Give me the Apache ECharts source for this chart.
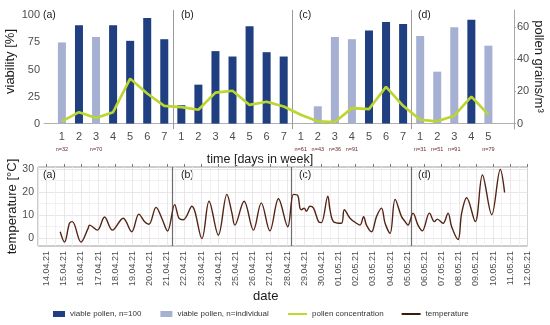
<!DOCTYPE html>
<html><head><meta charset="utf-8">
<script src="https://cdn.jsdelivr.net/npm/echarts@6/dist/echarts.min.js"></script>
<style>html,body{margin:0;padding:0;background:#fff}#c{width:550px;height:325px}</style>
</head><body><div id="c"></div>
<script>
// ---- data ----
const panelLabels = ['(a)','(b)','(c)','(d)'];
const panelSizes = [7, 7, 7, 5];
const dayLabels = ['1','2','3','4','5','6','7','1','2','3','4','5','6','7','1','2','3','4','5','6','7','1','2','3','4','5'];
const sampleSize = ['individual','100','individual','100','100','100','100',
                    '100','100','100','100','100','100','100',
                    'individual','individual','individual','individual','100','100','100',
                    'individual','individual','individual','100','individual'];
const nLabels = ['n=32','','n=70','','','','',
                 '','','','','','','',
                 'n=61','n=43','n=36','n=91','','','',
                 'n=31','n=51','n=91','','n=79'];
const viability = [75,91,80,91,76.5,97.5,78, 17,36,67,62,90,66,62, 0,16,80,78,86,94,92, 81,48,89,96,72];
const pollenConc = [1.4,7.1,3.5,7.1,27.9,18.7,11, 10.2,8.6,19.2,20.4,11.6,13.5,10.6, 5.5,1.4,1.0,9.6,9.0,22.8,11.0, 2.4,1.4,4.9,16.7,5.5];
const leftTicks = [0,25,50,75,100];
const rightTicks = [0,20,40,60];
const tempTicks = [0,10,20,30];
const dateAxisStart = '2021-04-14 00:00';
const dateAxisEnd = '2021-05-12 00:00';
const panelBreakTimes = ['2021-04-21 07:00','2021-04-28 06:30','2021-05-05 06:15'];
const tempTimes = [
 '2021-04-14 19:00','2021-04-15 01:00','2021-04-15 08:00','2021-04-15 12:00','2021-04-16 00:00','2021-04-16 10:00','2021-04-16 12:00','2021-04-16 23:00',
 '2021-04-17 09:00','2021-04-17 20:00','2021-04-18 11:00','2021-04-18 23:00','2021-04-19 09:00','2021-04-19 17:00','2021-04-19 23:00','2021-04-20 09:00',
 '2021-04-20 17:00','2021-04-21 01:00','2021-04-21 11:00','2021-04-21 17:00','2021-04-21 23:00','2021-04-22 11:00','2021-04-23 01:00','2021-04-23 11:00',
 '2021-04-24 00:00','2021-04-24 12:00','2021-04-24 19:00','2021-04-24 23:00','2021-04-25 12:00','2021-04-26 01:00','2021-04-26 12:00','2021-04-27 00:00',
 '2021-04-27 12:00','2021-04-28 01:00','2021-04-28 09:00','2021-04-28 15:00','2021-04-28 18:00','2021-04-28 20:00','2021-04-29 00:00','2021-04-29 03:00',
 '2021-04-29 08:00','2021-04-29 13:00','2021-04-29 20:00','2021-04-30 00:00','2021-04-30 09:00','2021-04-30 12:00','2021-04-30 17:00','2021-05-01 04:00',
 '2021-05-01 08:00','2021-05-01 16:00','2021-05-02 01:00','2021-05-02 06:00','2021-05-02 11:00','2021-05-02 15:00','2021-05-02 22:00','2021-05-03 05:00',
 '2021-05-03 12:00','2021-05-03 17:00','2021-05-04 00:00','2021-05-04 07:00','2021-05-04 16:00','2021-05-04 21:00','2021-05-05 01:00','2021-05-05 08:00',
 '2021-05-05 15:00','2021-05-05 21:00','2021-05-06 07:00','2021-05-06 14:00','2021-05-06 18:00','2021-05-07 02:00','2021-05-07 09:00','2021-05-07 14:00',
 '2021-05-07 23:00','2021-05-08 04:00','2021-05-08 11:00','2021-05-08 23:00','2021-05-09 09:00','2021-05-09 22:00','2021-05-10 10:00','2021-05-10 16:00'
];
const tempValues = [
 2.7,-1.8,6.4,7.1,-1.8,4.2,5.6,3.4,
 9.1,3.4,8.6,2.7,10.4,7.1,6.0,13.3,
 8.6,3.0,14.5,8.6,7.9,13.8,-0.3,16.0,
 1.2,19.0,10.8,5.6,16.0,3.4,15.3,3.1,
 17.1,4.9,19.0,18.5,13.0,12.3,13.0,11.6,
 13.8,13.0,7.1,6.7,18.2,12.3,7.1,6.4,
 12.3,8.6,6.4,5.6,9.3,5.6,2.7,9.3,
 13.0,6.4,2.0,16.8,9.3,7.1,5.6,10.8,
 5.6,3.1,10.8,7.1,8.2,6.4,10.8,4.9,
 -0.7,10.8,17.5,7.1,27.4,10.1,29.8,19.8
];

// ---- derived ----
const FONT = '"Liberation Sans", Arial, sans-serif';
const parseT = s => { const [dp, tp] = s.split(' '); const [y, m, d] = dp.split('-').map(Number); const [h, mi] = tp.split(':').map(Number); return Date.UTC(y, m - 1, d, h, mi); };
const DAY = 86400000;
const t0 = parseT(dateAxisStart);
const toDays = s => (parseT(s) - t0) / DAY;
const xMaxDays = toDays(dateAxisEnd);
const positions = dayLabels.map((_, i) => i + 1);
const topBreaks = [];
{ let acc = 0; for (let k = 0; k < panelSizes.length - 1; k++) { acc += panelSizes[k]; topBreaks.push(acc + 0.5); } }
const barHundred = [], barIndiv = [];
positions.forEach((p, i) => { (sampleSize[i] === '100' ? barHundred : barIndiv).push([p, viability[i]]); });
const pollenData = positions.map((p, i) => [p, pollenConc[i]]);
const tempData = tempTimes.map((t, i) => [toDays(t), tempValues[i]]);

const halfDays = [], fullDays = [];
for (let v = -0.5; v <= xMaxDays + 1e-9; v += 0.5) halfDays.push(v);
for (let v = 0; v <= xMaxDays + 1e-9; v += 1) fullDays.push(v);
const pad = n => (n < 10 ? '0' : '') + n;
const fmtDate = v => { const d = new Date(t0 + Math.round(v) * DAY); return pad(d.getUTCDate()) + '.' + pad(d.getUTCMonth() + 1) + '.' + String(d.getUTCFullYear()).slice(2); };

const chart = echarts.init(document.getElementById('c'), null, { renderer: 'canvas', width: 550, height: 325 });
const graphics = [];
const panelX = [43, 181, 299, 418];
panelLabels.forEach((lab, k) => {
  graphics.push({ type: 'text', left: panelX[k], top: 10, style: { text: lab, font: '10.5px ' + FONT, fill: '#1a1a1a' } });
  graphics.push({ type: 'text', left: panelX[k], top: 170, style: { text: lab, font: '10.5px ' + FONT, fill: '#1a1a1a' } });
});

chart.setOption({
  animation: false,
  textStyle: { fontFamily: FONT },
  grid: [
    { left: 44, right: 36, top: 10, bottom: 196, outerBoundsMode: 'none', containLabel: false },
    { left: 38, right: 22.5, top: 167, bottom: 79, outerBoundsMode: 'none', containLabel: false,
      show: true, borderColor: '#9a9a9a', borderWidth: 1, backgroundColor: '#fff' }
  ],
  xAxis: [
    { gridIndex: 0, type: 'value', min: -0.05, max: 27.5,
      axisLine: { show: true, lineStyle: { color: '#b0b0b0' } },
      axisTick: { show: false }, splitLine: { show: false },
      axisLabel: { customValues: positions, margin: 2,
        formatter: v => { const i = Math.round(v) - 1; return '{d|' + dayLabels[i] + '}\n{n|' + (nLabels[i] || ' ') + '}'; },
        rich: { d: { fontSize: 11, color: '#4d4d4d', lineHeight: 12, fontFamily: FONT },
                n: { fontSize: 5.5, color: '#6b2a2a', lineHeight: 12, fontFamily: FONT } } },
      name: 'time [days in week]', nameLocation: 'middle', nameGap: 22,
      nameTextStyle: { fontSize: 12.5, color: '#1a1a1a', padding: [0, 38, 0, 0] } },
    { gridIndex: 1, type: 'value', min: -0.5, max: xMaxDays,
      axisLine: { show: false },
      axisTick: { show: false, customValues: halfDays },
      splitLine: { show: true, lineStyle: { color: ['#f1eef1', '#e4e1e4'], width: 0.8 } },
      axisLabel: { customValues: fullDays, rotate: 90, margin: 5, fontSize: 9, color: '#4d4d4d', formatter: v => fmtDate(v) },
      name: 'date', nameLocation: 'middle', nameGap: 44,
      nameTextStyle: { fontSize: 13, color: '#1a1a1a', padding: [0, 34, 0, 0] } },
    { gridIndex: 1, type: 'value', min: -0.5, max: xMaxDays,
      axisLine: { show: false }, axisLabel: { show: false }, splitLine: { show: false },
      axisTick: { show: true, customValues: fullDays, length: 3, lineStyle: { color: '#777' } } }
  ],
  yAxis: [
    { gridIndex: 0, type: 'value', min: -5, max: 105,
      axisLine: { show: false }, axisTick: { show: false }, splitLine: { show: false },
      axisLabel: { customValues: leftTicks, fontSize: 11, color: '#4d4d4d', margin: 4 },
      name: 'viability [%]', nameLocation: 'middle', nameGap: 27, nameMoveOverlap: false,
      nameTextStyle: { fontSize: 13, color: '#1a1a1a', padding: [0, 0, 0, 16] } },
    { gridIndex: 0, type: 'value', position: 'right', min: -3.35, max: 70.45,
      axisLine: { show: true, lineStyle: { color: '#a8a8a8' } },
      axisTick: { show: true, customValues: rightTicks, length: 2, lineStyle: { color: '#a8a8a8' } },
      splitLine: { show: false },
      axisLabel: { customValues: rightTicks, fontSize: 11, color: '#4d4d4d', margin: 3 },
      name: 'pollen grains/m³', nameLocation: 'middle', nameGap: 18, nameRotate: -90, nameMoveOverlap: false,
      nameTextStyle: { fontSize: 13, color: '#1a1a1a', padding: [0, 6, 0, 0] } },
    { gridIndex: 1, type: 'value', min: -3.5, max: 30.9,
      axisLine: { show: false },
      axisTick: { show: false, customValues: [0, 5, 10, 15, 20, 25, 30] },
      splitLine: { show: true, lineStyle: { color: ['#e4e1e4', '#f1eef1'], width: 0.8 } },
      axisLabel: { customValues: tempTicks, fontSize: 10.5, color: '#4d4d4d', margin: 4 },
      name: 'temperature [°C]', nameLocation: 'middle', nameGap: 19, nameMoveOverlap: false,
      nameTextStyle: { fontSize: 13, color: '#1a1a1a' } }
  ],
  legend: [
    { left: 48, top: 305, itemWidth: 12, itemHeight: 6, itemGap: 19, icon: 'rect',
      data: ['viable pollen, n=100', 'viable pollen, n=individual'],
      textStyle: { fontSize: 8, color: '#333' } },
    { left: 283, top: 305, itemWidth: 19, itemHeight: 2, itemGap: 18, icon: 'rect',
      data: ['pollen concentration', 'temperature'],
      textStyle: { fontSize: 8, color: '#333' } }
  ],
  graphic: graphics,
  series: [
    { name: 'viable pollen, n=100', type: 'bar', xAxisIndex: 0, yAxisIndex: 0, barWidth: 8, barGap: '-100%',
      color: '#1f3f80', data: barHundred,
      markLine: { silent: true, symbol: 'none', label: { show: false },
        lineStyle: { color: '#9a9a9a', width: 1, type: 'solid' },
        data: topBreaks.map(x => ({ xAxis: x })) } },
    { name: 'viable pollen, n=individual', type: 'bar', xAxisIndex: 0, yAxisIndex: 0, barWidth: 8, barGap: '-100%',
      color: '#a5b0d3', data: barIndiv },
    { name: 'pollen concentration', type: 'line', xAxisIndex: 0, yAxisIndex: 1, data: pollenData,
      color: '#c2d82e', showSymbol: false, lineStyle: { width: 2.6, color: '#bcd52f' }, z: 5 },
    { name: 'temperature', type: 'line', xAxisIndex: 1, yAxisIndex: 2, data: tempData,
      color: '#3c1a0e', showSymbol: false, smooth: 0.35, lineStyle: { width: 1.4, color: '#532414' }, z: 5,
      markLine: { silent: true, symbol: 'none', label: { show: false },
        lineStyle: { color: '#6e6e6e', width: 1.2, type: 'solid' },
        data: panelBreakTimes.map(t => ({ xAxis: toDays(t) })) } }
  ]
});
</script></body></html>
